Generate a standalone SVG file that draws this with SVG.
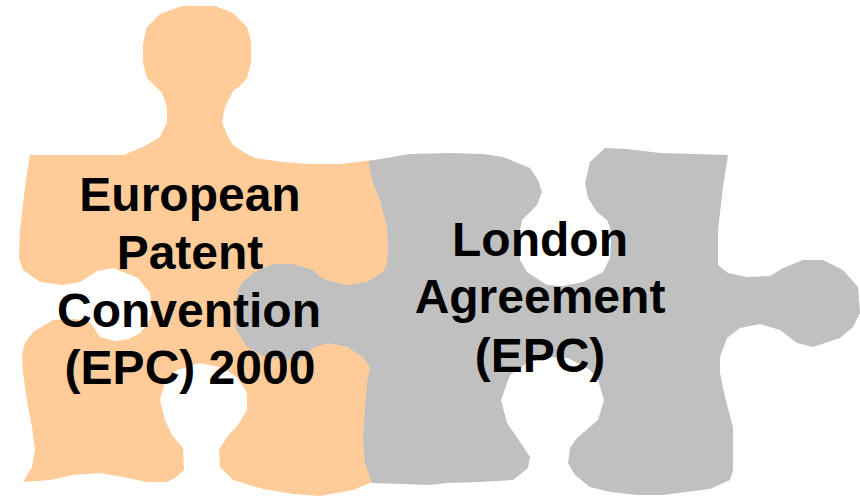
<svg xmlns="http://www.w3.org/2000/svg" width="860" height="498" viewBox="0 0 860 498">
<style>
.t{font-family:"Liberation Sans",Arial,sans-serif;font-weight:700;font-size:48px;fill:#000;text-anchor:middle}
.p{stroke-linejoin:round}
</style>
<rect width="860" height="498" fill="#fff"/>
<g id="european-patent-convention">
<path class="p" fill="#FFCC99" d="M182 6 L215 6 L233 13 L247 27 L251 42 L251 63 L247 78 L240 86 L233 91 L230 97 L225 107 L222 122 L227 135 L233 145 L245 153 L255 158 L283 162 L310 164 L340 164 L374 160 L378 183 L385 200 L392 227 L393 250 L392 263 L388 280 L380 300 L380 400 L378 470 L372 482 L353 490 L320 496 L293 494 L263 489 L233 480 L220 467 L219 450 L227 437 L238 425 L247 410 L247 393 L238 378 L223 368 L200 363 L177 370 L165 382 L160 400 L165 420 L172 435 L183 448 L184 470 L175 478 L167 482 L147 482 L123 477 L100 473 L73 475 L50 480 L23 482 L32 467 L35 450 L32 427 L28 407 L23 373 L22 355 L25 343 L33 332 L53 320 L75 319 L90 322 L100 337 L115 341 L129 339 L140 333 L148 323 L152 313 L150 293 L138 278 L113 268 L97 271 L80 282 L63 285 L40 282 L23 270 L19 258 L20 230 L25 187 L30 155 L123 155 L143 147 L160 137 L167 122 L167 107 L162 93 L147 78 L143 63 L143 43 L147 27 L160 14 Z"/>
</g>
<g id="london-agreement">
<path class="p" fill="#C0C0C0" d="M368 161 L410 154 L450 153 L483 154 L503 157 L530 168 L538 180 L542 192 L537 205 L527 215 L522 220 L519 235 L520 260 L527 272 L547 285 L563 286 L583 282 L603 272 L610 258 L611 240 L610 227 L607 220 L597 212 L588 198 L585 183 L590 162 L605 148 L627 149 L660 153 L728 155 L723 187 L718 230 L718 265 L728 273 L747 277 L770 276 L783 268 L803 260 L823 260 L843 270 L858 287 L860 313 L853 327 L840 338 L813 347 L797 343 L780 330 L760 324 L740 328 L727 338 L720 357 L720 373 L725 397 L733 427 L733 470 L730 480 L710 489 L663 495 L637 495 L610 492 L590 487 L575 475 L568 463 L570 448 L577 438 L598 420 L604 400 L598 380 L590 370 L568 358 L547 357 L527 363 L510 375 L501 400 L507 423 L520 442 L530 457 L528 468 L513 480 L480 482 L447 483 L430 485 L372 483 L365 463 L363 440 L365 407 L367 383 L370 367 L363 357 L347 347 L328 343 L313 348 L300 360 L267 358 L247 347 L235 328 L234 305 L240 285 L253 273 L273 264 L293 264 L313 270 L322 278 L333 282 L347 285 L367 282 L383 272 L387 263 L388 250 L387 227 L380 200 L373 183 Z"/>
</g>
<g id="labels">
<text class="t" x="190" y="211">European</text>
<text class="t" x="190" y="269">Patent</text>
<text class="t" x="189" y="327">Convention</text>
<text class="t" x="190" y="384">(EPC) 2000</text>
<text class="t" x="540" y="256">London</text>
<text class="t" x="540" y="313">Agreement</text>
<text class="t" x="540" y="372">(EPC)</text>
</g>
</svg>
